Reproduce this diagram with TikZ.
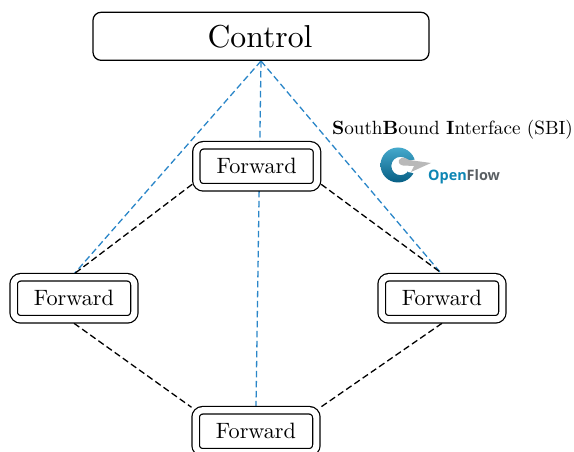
\documentclass[tikz,border=0pt]{standalone}
\usepackage{fontspec}
\newfontfamily\logofont{Open Sans}
\usetikzlibrary{calc}
\definecolor{sbiblue}{HTML}{2A86C8}
\definecolor{ofteal}{HTML}{0E86B4}
\definecolor{ofdark}{HTML}{075F85}
\definecolor{oflight}{HTML}{45A9CC}
\definecolor{ofgray}{HTML}{5A5F63}
\newcommand{\fwdtext}{\raisebox{-0.8pt}{\scalebox{2.22}{Forward}}}
\tikzset{
  x=1pt,y=-1pt,
  ctrlbox/.style={draw,line width=1.25pt,fill=white,rounded corners=8pt,minimum width=336pt,minimum height=48pt,inner sep=0pt,outer sep=0pt},
  fwdbox/.style={draw,line width=1.25pt,double,double distance=6.2pt,fill=white,rounded corners=7pt,minimum width=120.7pt,minimum height=42pt,inner sep=0pt,outer sep=0pt},
  sbi/.style={draw=sbiblue,line width=1.3pt,dash pattern=on 6.5pt off 3.5pt},
  blk/.style={draw=black,line width=1.3pt,dash pattern=on 6.5pt off 3.5pt},
}
\begin{document}
\begin{tikzpicture}
\useasboundingbox (0,0) rectangle (574,452);
\clip (0,0) rectangle (574,452);
\coordinate (ctop) at (261,61);
\coordinate (ftopc) at (256.7,166.3);
\coordinate (fleftc) at (74,298.3);
\coordinate (frightc) at (442,298.3);
\coordinate (fbotc) at (256,431.3);
\coordinate (leftn) at (74,274);
\coordinate (rightn) at (440,272);
\coordinate (botn) at (256,407);
\draw[sbi] (ctop) -- (leftn);
\draw[sbi] (ctop) -- (botn);
\draw[sbi] (ctop) -- (rightn);
\coordinate (tl) at ($(ftopc)+(-64.5,18)$);
\coordinate (tr) at ($(ftopc)+(64.5,18)$);
\coordinate (bl) at ($(fbotc)+(-64.5,-24)$);
\coordinate (br) at ($(fbotc)+(64.5,-24)$);
\draw[blk] (tl) -- (leftn);
\draw[blk] (tr) -- (rightn);
\draw[blk] ($(fleftc)+(0,25)$) -- (bl);
\draw[blk] ($(frightc)+(0,25)$) -- (br);
\node[fwdbox] (ftop) at (ftopc) {\fwdtext};
\node[fwdbox] (fleft) at (fleftc) {\fwdtext};
\node[fwdbox] (fright) at (frightc) {\fwdtext};
\node[fwdbox] (fbot) at (fbotc) {\fwdtext};
\node[ctrlbox] (control) at (261,36.3) {\hspace*{-2pt}\scalebox{3.17}{Control}};
\node[inner sep=0pt] (sbilabel) at (452.5,129.5) {\scalebox{1.915}{\textbf{S}outh\textbf{B}ound \textbf{I}nterface (SBI)}};
% OpenFlow logo
\shade[top color=oflight,bottom color=ofdark,even odd rule] (398,165) circle (17.5) (400.5,166) circle (9.2);
\fill[white] (408,161) -- (418,159) -- (418,174) -- (408,172) -- cycle;
\fill[gray!55] (399,160) .. controls (402,156.5) and (405,157.5) .. (409,160) -- (431,163) -- (411,172) -- (414,166) -- (403,165.5) .. controls (400,165) and (398,163) .. (399,160) -- cycle;
\node[font=\logofont\bfseries\fontsize{14.4}{16}\selectfont,inner sep=0pt,anchor=west] (oflabel) at (428,176.5) {\textcolor{ofteal}{Open}\textcolor{ofgray}{Flow}};
\end{tikzpicture}
\end{document}
